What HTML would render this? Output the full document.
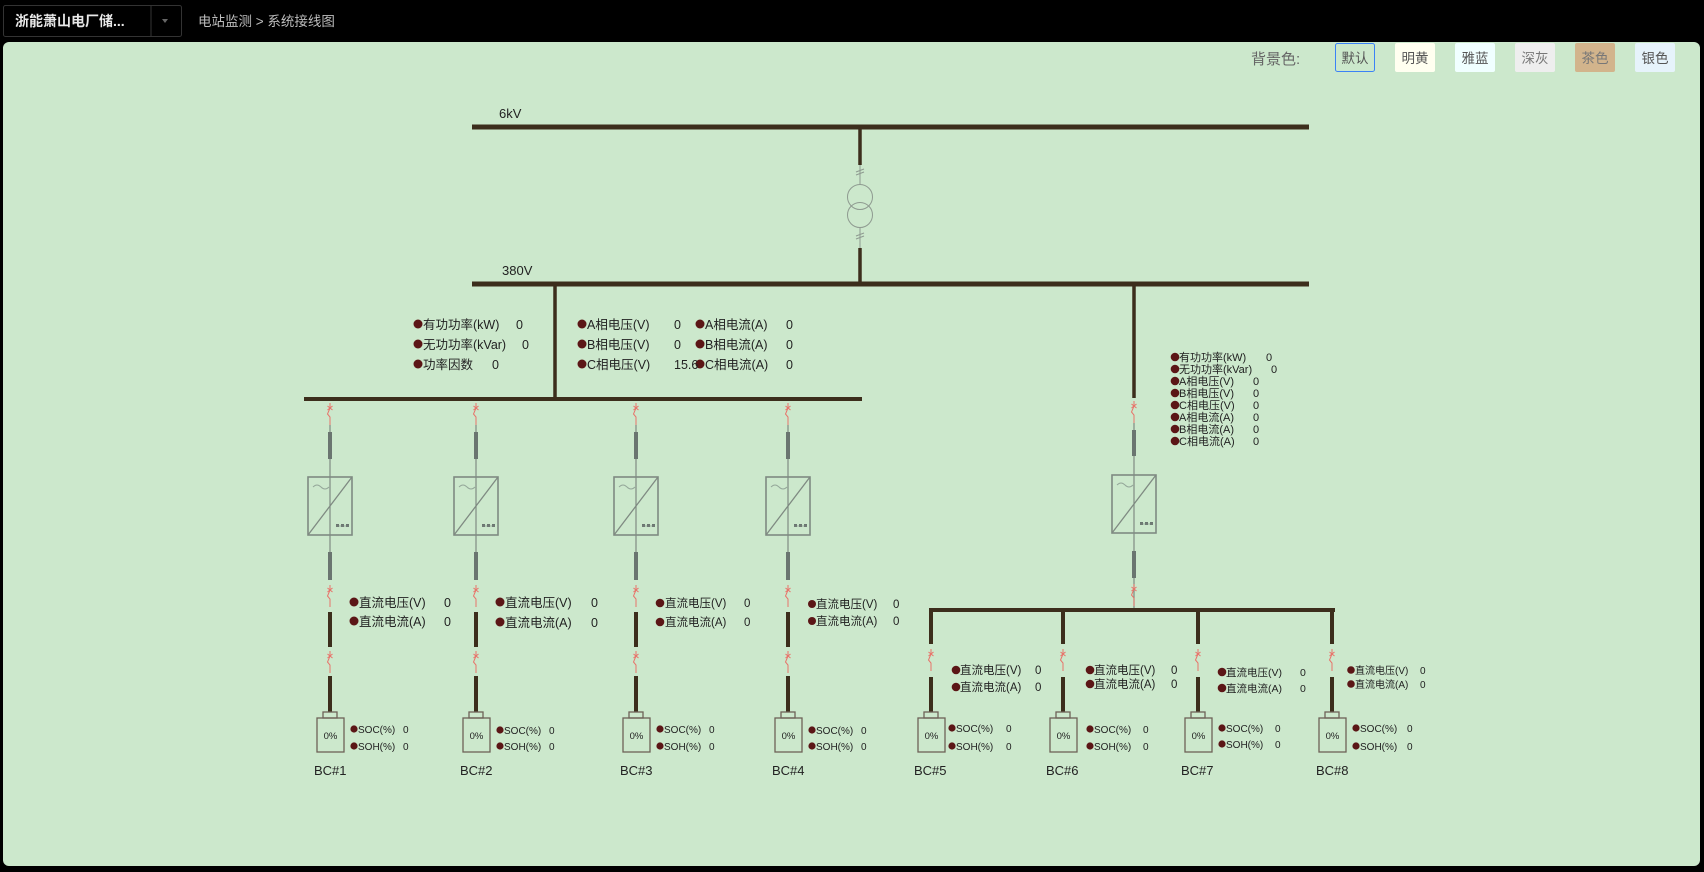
<!DOCTYPE html>
<html><head><meta charset="utf-8">
<style>
html,body{margin:0;padding:0;background:#000;width:1704px;height:872px;overflow:hidden;font-family:"Liberation Sans","Noto Sans CJK SC",sans-serif;}
svg{position:absolute;left:0;top:0}
text{font-family:"Liberation Sans","Noto Sans CJK SC",sans-serif;}
</style></head><body>
<svg width="1704" height="872" viewBox="0 0 1704 872" xmlns="http://www.w3.org/2000/svg">
<defs>
<g id="brk" fill="none" stroke="#e8736a" stroke-width="1">
  <line x1="0" y1="0" x2="0" y2="5"/>
  <line x1="-2.5" y1="3" x2="2.5" y2="7"/><line x1="2.5" y1="3" x2="-2.5" y2="7"/>
  <polyline points="0,5 -2.5,11 0,14 0,22"/>
</g>
<g id="inv" fill="none" stroke="#7f8a82">
  <rect x="-22" y="0" width="44" height="58" stroke-width="1.6"/>
  <line x1="-22" y1="58" x2="22" y2="0" stroke-width="1.3"/>
  <path d="M-17 10 q4 -4 8 0 t8 0" stroke="#95a89a" stroke-width="1"/>
  <rect x="6" y="47" width="3" height="3" fill="#6a7570" stroke="none"/>
  <rect x="11" y="47" width="3" height="3" fill="#6a7570" stroke="none"/>
  <rect x="16" y="47" width="3" height="3" fill="#6a7570" stroke="none"/>
  <line x1="6" y1="49" x2="19" y2="49" stroke-width="0.6"/>
</g>
<g id="bat" fill="none" stroke="#6e6258" stroke-width="1.3">
  <rect x="-7" y="0" width="14" height="6"/>
  <rect x="-13" y="6" width="27" height="34"/>
</g>
</defs>
<rect x="0" y="0" width="1704" height="42" fill="#000"/>
<rect x="3.5" y="5.5" width="178" height="31" fill="#000" stroke="#333" rx="2"/>
<line x1="151" y1="6" x2="151" y2="36" stroke="#333"/>
<text x="15" y="26" fill="#e8e8e8" font-size="14" font-weight="bold">浙能萧山电厂储...</text>
<path d="M162 19 l6 0 l-3 4z" fill="#666"/>
<text x="198" y="26" fill="#bdbdbd" font-size="13.5">电站监测  &gt;  系统接线图</text>
<rect x="3" y="42" width="1697" height="824" rx="6" fill="#cce8cc"/>
<text x="1251" y="64" fill="#666" font-size="15">背景色:</text>
<rect x="1335.5" y="43.5" width="39" height="28" rx="2" fill="#cce8cc" stroke="#3b82f6"/>
<text x="1355" y="63" fill="#555" font-size="13.5" text-anchor="middle">默认</text>
<rect x="1395" y="43" width="40" height="29" rx="2" fill="#fffff0"/>
<text x="1415" y="63" fill="#555" font-size="13.5" text-anchor="middle">明黄</text>
<rect x="1455" y="43" width="40" height="29" rx="2" fill="#f0ffff"/>
<text x="1475" y="63" fill="#555" font-size="13.5" text-anchor="middle">雅蓝</text>
<rect x="1515" y="43" width="40" height="29" rx="2" fill="#eeeeee"/>
<text x="1535" y="63" fill="#777" font-size="13.5" text-anchor="middle">深灰</text>
<rect x="1575" y="43" width="40" height="29" rx="2" fill="#d2b48c"/>
<text x="1595" y="63" fill="#777" font-size="13.5" text-anchor="middle">茶色</text>
<rect x="1635" y="43" width="40" height="29" rx="2" fill="#e6f3fb"/>
<text x="1655" y="63" fill="#555" font-size="13.5" text-anchor="middle">银色</text>

<g stroke="#3c2e1c">
<line x1="472" y1="127" x2="1309" y2="127" stroke-width="5"/>
<line x1="472" y1="284" x2="1309" y2="284" stroke-width="5"/>
<line x1="304" y1="399" x2="862" y2="399" stroke-width="4"/>
<line x1="555" y1="284" x2="555" y2="399" stroke-width="3.5"/>
<line x1="860" y1="127" x2="860" y2="165" stroke-width="3.5"/>
<line x1="860" y1="248" x2="860" y2="284" stroke-width="3.5"/>
</g>
<g fill="none" stroke="#8e9a90" stroke-width="1">
<line x1="860" y1="165" x2="860" y2="185"/>
<line x1="860" y1="228" x2="860" y2="248"/>
<line x1="856" y1="172" x2="864" y2="169"/><line x1="856" y1="175" x2="864" y2="172"/>
<line x1="856" y1="236" x2="864" y2="233"/><line x1="856" y1="239" x2="864" y2="236"/>
<circle cx="860" cy="197" r="12.5"/><circle cx="860" cy="215" r="12.5"/>
</g>
<text x="499" y="118" font-size="13" fill="#222">6kV</text>
<text x="502" y="275" font-size="13" fill="#222">380V</text>

<g fill="#5b1616">
<circle cx="418" cy="324" r="4.5"/><circle cx="418" cy="344" r="4.5"/><circle cx="418" cy="364" r="4.5"/>
<circle cx="582" cy="324" r="4.5"/><circle cx="582" cy="344" r="4.5"/><circle cx="582" cy="364" r="4.5"/>
<circle cx="700" cy="324" r="4.5"/><circle cx="700" cy="344" r="4.5"/><circle cx="700" cy="364" r="4.5"/>
</g>
<g font-size="12.5" fill="#222">
<text x="423" y="329">有功功率(kW)</text><text x="516" y="329">0</text>
<text x="423" y="349">无功功率(kVar)</text><text x="522" y="349">0</text>
<text x="423" y="369">功率因数</text><text x="492" y="369">0</text>
<text x="587" y="329">A相电压(V)</text><text x="674" y="329">0</text>
<text x="587" y="349">B相电压(V)</text><text x="674" y="349">0</text>
<text x="587" y="369">C相电压(V)</text><text x="674" y="369">15.6</text>
<text x="705" y="329">A相电流(A)</text><text x="786" y="329">0</text>
<text x="705" y="349">B相电流(A)</text><text x="786" y="349">0</text>
<text x="705" y="369">C相电流(A)</text><text x="786" y="369">0</text>
</g>

<g id="b1">
<use href="#brk" x="330" y="403"/>
<line x1="330" y1="425" x2="330" y2="552" stroke="#7f8a82" stroke-width="1.2"/>
<line x1="330" y1="432" x2="330" y2="459" stroke="#6a7570" stroke-width="4"/>
<use href="#inv" x="330" y="477"/>
<line x1="330" y1="552" x2="330" y2="580" stroke="#6a7570" stroke-width="4"/>
<use href="#brk" x="330" y="585"/>
<line x1="330" y1="612" x2="330" y2="647" stroke="#3c2e1c" stroke-width="4"/>
<use href="#brk" x="330" y="651"/>
<line x1="330" y1="676" x2="330" y2="712" stroke="#3c2e1c" stroke-width="4"/>
<use href="#bat" x="330" y="712"/>
</g>
<use href="#b1" x="146"/>
<use href="#b1" x="306"/>
<use href="#b1" x="458"/>

<line x1="1134" y1="284" x2="1134" y2="398" stroke="#3c2e1c" stroke-width="3.5"/>
<use href="#brk" x="1134" y="401"/>
<line x1="1134" y1="423" x2="1134" y2="610" stroke="#7f8a82" stroke-width="1.2"/>
<line x1="1134" y1="430" x2="1134" y2="456" stroke="#6a7570" stroke-width="4"/>
<use href="#inv" x="1134" y="475"/>
<line x1="1134" y1="551" x2="1134" y2="578" stroke="#6a7570" stroke-width="4"/>
<use href="#brk" x="1134" y="584"/>
<line x1="929" y1="610" x2="1335" y2="610" stroke="#3c2e1c" stroke-width="4"/>
<g id="d5">
<line x1="931" y1="610" x2="931" y2="644" stroke="#3c2e1c" stroke-width="4"/>
<use href="#brk" x="931" y="649"/>
<line x1="931" y1="677" x2="931" y2="712" stroke="#3c2e1c" stroke-width="4"/>
<use href="#bat" x="931" y="712"/>
</g>
<use href="#d5" x="132"/>
<use href="#d5" x="267"/>
<use href="#d5" x="401"/>

<g fill="#5b1616">
<circle cx="1175" cy="357" r="4.3"/><circle cx="1175" cy="369" r="4.3"/><circle cx="1175" cy="381" r="4.3"/><circle cx="1175" cy="393" r="4.3"/>
<circle cx="1175" cy="405" r="4.3"/><circle cx="1175" cy="417" r="4.3"/><circle cx="1175" cy="429" r="4.3"/><circle cx="1175" cy="441" r="4.3"/>
</g>
<g font-size="11" fill="#222">
<text x="1179" y="361">有功功率(kW)</text><text x="1266" y="361">0</text>
<text x="1179" y="373">无功功率(kVar)</text><text x="1271" y="373">0</text>
<text x="1179" y="385">A相电压(V)</text><text x="1253" y="385">0</text>
<text x="1179" y="397">B相电压(V)</text><text x="1253" y="397">0</text>
<text x="1179" y="409">C相电压(V)</text><text x="1253" y="409">0</text>
<text x="1179" y="421">A相电流(A)</text><text x="1253" y="421">0</text>
<text x="1179" y="433">B相电流(A)</text><text x="1253" y="433">0</text>
<text x="1179" y="445">C相电流(A)</text><text x="1253" y="445">0</text>
</g>

<g fill="#5b1616">
<circle cx="354" cy="602" r="4.5"/><circle cx="354" cy="621" r="4.5"/>
<circle cx="500" cy="602" r="4.5"/><circle cx="500" cy="622" r="4.5"/>
<circle cx="660" cy="603" r="4.3"/><circle cx="660" cy="622" r="4.3"/>
<circle cx="812" cy="604" r="4"/><circle cx="812" cy="621" r="4"/>
<circle cx="956" cy="670" r="4.3"/><circle cx="956" cy="687" r="4.3"/>
<circle cx="1090" cy="670" r="4.3"/><circle cx="1090" cy="684" r="4.3"/>
<circle cx="1222" cy="672" r="4.3"/><circle cx="1222" cy="688" r="4.3"/>
<circle cx="1351" cy="670" r="3.8"/><circle cx="1351" cy="684" r="3.8"/>
<circle cx="354" cy="729" r="3.6"/><circle cx="354" cy="746" r="3.6"/>
<circle cx="500" cy="730" r="3.6"/><circle cx="500" cy="746" r="3.6"/>
<circle cx="660" cy="729" r="3.6"/><circle cx="660" cy="746" r="3.6"/>
<circle cx="812" cy="730" r="3.6"/><circle cx="812" cy="746" r="3.6"/>
<circle cx="952" cy="728" r="3.6"/><circle cx="952" cy="746" r="3.6"/>
<circle cx="1090" cy="729" r="3.6"/><circle cx="1090" cy="746" r="3.6"/>
<circle cx="1222" cy="728" r="3.6"/><circle cx="1222" cy="744" r="3.6"/>
<circle cx="1356" cy="728" r="3.6"/><circle cx="1356" cy="746" r="3.6"/>
</g>
<g font-size="12.5" fill="#222">
<text x="359" y="607">直流电压(V)</text><text x="444" y="607">0</text>
<text x="359" y="626">直流电流(A)</text><text x="444" y="626">0</text>
<text x="505" y="607">直流电压(V)</text><text x="591" y="607">0</text>
<text x="505" y="627">直流电流(A)</text><text x="591" y="627">0</text>
</g>
<g font-size="11.5" fill="#222">
<text x="665" y="607">直流电压(V)</text><text x="744" y="607">0</text>
<text x="665" y="626">直流电流(A)</text><text x="744" y="626">0</text>
<text x="816" y="608">直流电压(V)</text><text x="893" y="608">0</text>
<text x="816" y="625">直流电流(A)</text><text x="893" y="625">0</text>
<text x="960" y="674">直流电压(V)</text><text x="1035" y="674">0</text>
<text x="960" y="691">直流电流(A)</text><text x="1035" y="691">0</text>
<text x="1094" y="674">直流电压(V)</text><text x="1171" y="674">0</text>
<text x="1094" y="688">直流电流(A)</text><text x="1171" y="688">0</text>
</g>
<g font-size="10.5" fill="#222">
<text x="1226" y="676">直流电压(V)</text><text x="1300" y="676">0</text>
<text x="1226" y="692">直流电流(A)</text><text x="1300" y="692">0</text>
</g>
<g font-size="10" fill="#222">
<text x="1355" y="674">直流电压(V)</text><text x="1420" y="674">0</text>
<text x="1355" y="688">直流电流(A)</text><text x="1420" y="688">0</text>
</g>
<g font-size="10" fill="#222">
<text x="358" y="733">SOC(%)</text><text x="403" y="733">0</text>
<text x="358" y="750">SOH(%)</text><text x="403" y="750">0</text>
<text x="504" y="734">SOC(%)</text><text x="549" y="734">0</text>
<text x="504" y="750">SOH(%)</text><text x="549" y="750">0</text>
<text x="664" y="733">SOC(%)</text><text x="709" y="733">0</text>
<text x="664" y="750">SOH(%)</text><text x="709" y="750">0</text>
<text x="816" y="734">SOC(%)</text><text x="861" y="734">0</text>
<text x="816" y="750">SOH(%)</text><text x="861" y="750">0</text>
<text x="956" y="732">SOC(%)</text><text x="1006" y="732">0</text>
<text x="956" y="750">SOH(%)</text><text x="1006" y="750">0</text>
<text x="1094" y="733">SOC(%)</text><text x="1143" y="733">0</text>
<text x="1094" y="750">SOH(%)</text><text x="1143" y="750">0</text>
<text x="1226" y="732">SOC(%)</text><text x="1275" y="732">0</text>
<text x="1226" y="748">SOH(%)</text><text x="1275" y="748">0</text>
<text x="1360" y="732">SOC(%)</text><text x="1407" y="732">0</text>
<text x="1360" y="750">SOH(%)</text><text x="1407" y="750">0</text>
</g>
<g font-size="9.5" fill="#222" text-anchor="middle">
<text x="330.5" y="739">0%</text><text x="476.5" y="739">0%</text><text x="636.5" y="739">0%</text><text x="788.5" y="739">0%</text>
<text x="931.5" y="739">0%</text><text x="1063.5" y="739">0%</text><text x="1198.5" y="739">0%</text><text x="1332.5" y="739">0%</text>
</g>
<g font-size="13" fill="#222">
<text x="314" y="775">BC#1</text><text x="460" y="775">BC#2</text><text x="620" y="775">BC#3</text><text x="772" y="775">BC#4</text>
<text x="914" y="775">BC#5</text><text x="1046" y="775">BC#6</text><text x="1181" y="775">BC#7</text><text x="1316" y="775">BC#8</text>
</g>
</svg>
</body></html>
